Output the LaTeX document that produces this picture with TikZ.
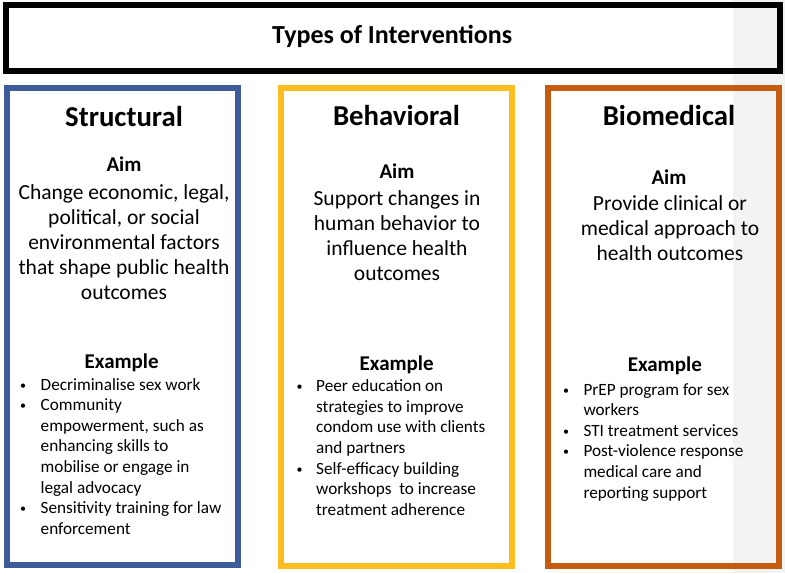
\documentclass[tikz,border=0pt]{standalone}
\usepackage{fontspec}
\setmainfont{Carlito}
\usepackage{array}
\definecolor{sblue}{HTML}{3D5A99}
\definecolor{syellow}{HTML}{FCBD1F}
\definecolor{sorange}{HTML}{C55A11}
\definecolor{stripgray}{HTML}{F3F3F3}
\newcommand\bulrow{\makebox[0pt][c]{\raisebox{1pt}{\fontsize{12}{12}\selectfont\textbullet}}}
\begin{document}
\begin{tikzpicture}[x=1pt,y=-1pt,
  colbox/.style={draw, line width=6pt, inner sep=0pt, fill=none},
  maintitle/.style={inner sep=0pt, anchor=base, font=\bfseries\fontsize{26}{30}\selectfont},
  colhead/.style={inner sep=0pt, anchor=base, font=\bfseries\fontsize{28.8}{34}\selectfont},
  subhead/.style={inner sep=0pt, anchor=base, font=\bfseries\fontsize{21}{25}\selectfont},
  aimtext/.style={inner sep=0pt, anchor=base, font=\fontsize{21.5}{25}\selectfont},
  bullist/.style={inner sep=0pt, anchor=base west, font=\fontsize{17.2}{20.6}\selectfont}]
\useasboundingbox (0,0) rectangle (785,573);
\fill[white] (0,0) rectangle (785,573);
\fill[stripgray] (733,0) rectangle (785,573);

% top box
\node (topbox) [colbox, draw=black, minimum width=773.5pt, minimum height=66pt] at (392.75,38) {};
\node (maintitle) [maintitle] at (392.2,43.5) {Types of Interventions};

% column boxes
\node (sbox) [colbox, draw=sblue, minimum width=231.5pt, minimum height=477pt] at (122.25,326.5) {};
\node (bbox) [colbox, draw=syellow, minimum width=231pt, minimum height=478pt] at (396,327) {};
\node (mbox) [colbox, draw=sorange, minimum width=231.5pt, minimum height=477.5pt] at (663.25,326.75) {};

% Structural
\node (shead) [colhead] at (124,126.5) {Structural};
\node (saim) [subhead] at (124,171.5) {Aim};
\node (saimtxt) [aimtext] at (124,199) {\begin{tabular}[t]{@{}c@{}}Change economic, legal,\\ political, or social\\ environmental factors\\ that shape public health\\ outcomes\end{tabular}};
\node (sex) [subhead] at (121.7,368.3) {Example};
\node (slist) [bullist] at (23,390) {\begin{tabular}[t]{@{}c@{\hspace{17.5pt}}l@{}}
\bulrow & Decriminalise sex work\\
\bulrow & Community\\
 & empowerment, such as\\
 & enhancing skills to\\
 & mobilise or engage in\\
 & legal advocacy\\
\bulrow & Sensitivity training for law\\
 & enforcement\end{tabular}};

% Behavioral
\node (bhead) [colhead] at (396.5,125) {Behavioral};
\node (baim) [subhead] at (397,178.3) {Aim};
\node (baimtxt) [aimtext] at (397,205) {\begin{tabular}[t]{@{}c@{}}Support changes in\\ human behavior to\\ influence health\\ outcomes\end{tabular}};
\node (bex) [subhead] at (396.7,370) {Example};
\node (blist) [bullist] at (299.5,391.7) {\begin{tabular}[t]{@{}c@{\hspace{16.5pt}}l@{}}
\bulrow & Peer education on\\
 & strategies to improve\\
 & condom use with clients\\
 & and partners\\
\bulrow & Self-efficacy building\\
 & workshops~ to increase\\
 & treatment adherence\end{tabular}};

% Biomedical
\node (mhead) [colhead] at (669,125) {Biomedical};
\node (maim) [subhead] at (669,184) {Aim};
\node (maimtxt) [aimtext] at (670,210) {\begin{tabular}[t]{@{}c@{}}Provide clinical or\\ medical approach to\\ health outcomes\end{tabular}};
\node (mex) [subhead] at (664.8,371.7) {Example};
\node (mlist) [bullist] at (566,395) {\begin{tabular}[t]{@{}c@{\hspace{17.3pt}}l@{}}
\bulrow & PrEP program for sex\\
 & workers\\
\bulrow & STI treatment services\\
\bulrow & Post-violence response\\
 & medical care and\\
 & reporting support\end{tabular}};
\end{tikzpicture}
\end{document}
